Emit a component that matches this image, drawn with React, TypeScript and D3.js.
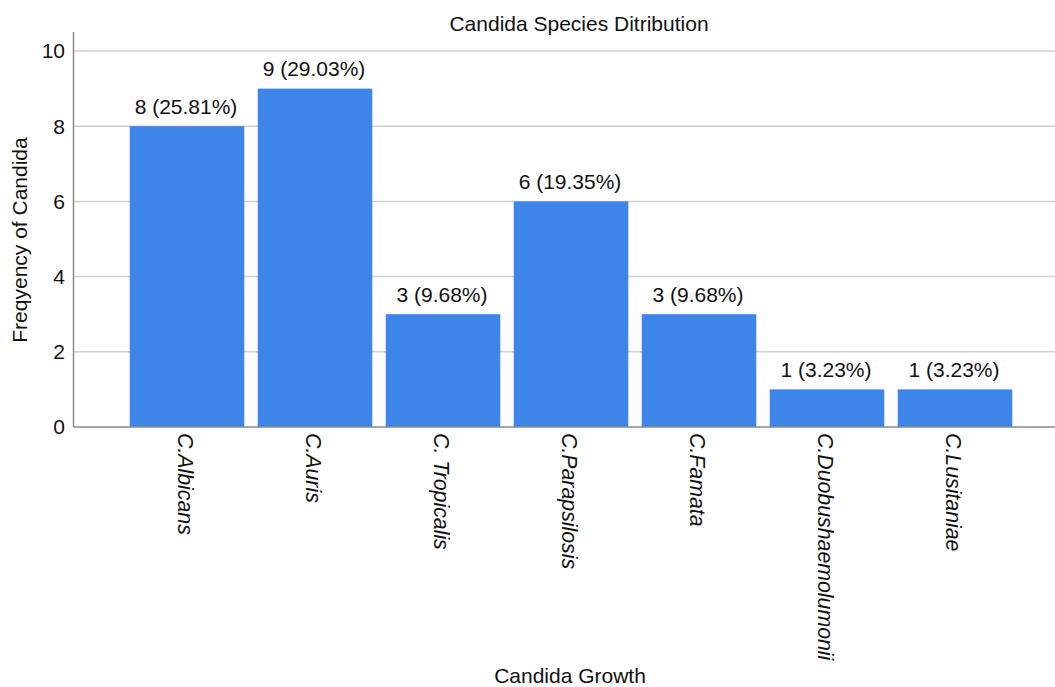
import React from "react";
import * as d3 from "d3";

const categories = ["C.Albicans", "C.Auris", "C. Tropicalis", "C.Parapsilosis", "C.Famata", "C.Duobushaemolumonii", "C.Lusitaniae"];
const counts = [8, 9, 3, 6, 3, 1, 1];
const percents = ["25.81%", "29.03%", "9.68%", "19.35%", "9.68%", "3.23%", "3.23%"];
const yTicks = [0, 2, 4, 6, 8, 10];

const W = 1055;
const H = 687;
const FONT = "'Liberation Sans', Arial, sans-serif";

export default function App() {
  const x = d3.scaleBand<string>().domain(categories).range([123, 1019]).paddingInner(0.105).paddingOuter(0.0525);
  const y = d3.scaleLinear().domain([0, 10]).range([427, 51]);
  const axisX = 73.5;

  return (
    <svg width={W} height={H} style={{ position: "absolute", left: 0, top: 0, background: "#fff" }} fontFamily={FONT}>
      <text x={579} y={31} fontSize={21} textAnchor="middle" fill="#111">Candida Species Ditribution</text>
      {yTicks.map((t) => (
        <g key={t}>
          {t > 0 && <line x1={axisX} x2={W} y1={y(t)} y2={y(t)} stroke="#cfcfcf" strokeWidth={1.5} />}
          <text x={65} y={y(t)} dy="0.35em" fontSize={21} textAnchor="end" fill="#111">{t}</text>
        </g>
      ))}
      {categories.map((c, i) => {
        const bx = x(c)!;
        const bw = x.bandwidth();
        const cx = bx + bw / 2;
        return (
          <g key={c}>
            <rect x={bx} y={y(counts[i])} width={bw} height={y(0) - y(counts[i])} fill="#3d85e9" />
            <text x={cx - 1} y={y(counts[i]) - 12.5} fontSize={21} textAnchor="middle" fill="#111">
              {`${counts[i]} (${percents[i]})`}
            </text>
            <text
              transform={`translate(${cx - 2},${y(0) + 6}) rotate(90)`}
              fontSize={21.3}
              fontStyle="italic"
              dominantBaseline="central"
              fill="#111"
            >
              {c}
            </text>
          </g>
        );
      })}
      <line x1={axisX} x2={axisX} y1={32} y2={y(0)} stroke="#8a8a8a" strokeWidth={1.5} />
      <line x1={axisX} x2={W} y1={y(0)} y2={y(0)} stroke="#8a8a8a" strokeWidth={1.5} />
      <text transform={`translate(27,240) rotate(-90)`} fontSize={21} textAnchor="middle" fill="#111">Freqyency of Candida</text>
      <text x={570} y={683} fontSize={21} textAnchor="middle" fill="#111">Candida Growth</text>
    </svg>
  );
}
